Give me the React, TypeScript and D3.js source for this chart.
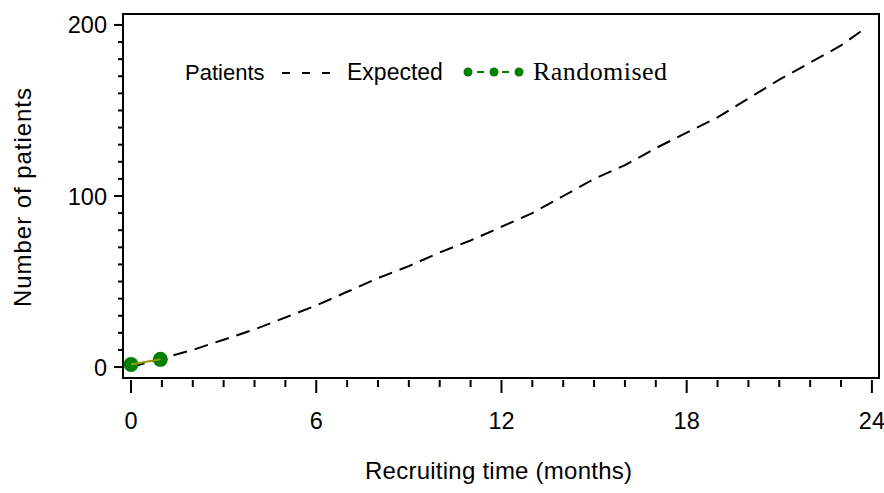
import React, { useRef, useEffect } from "react";
import * as d3 from "d3";

// expected recruitment curve (months -> patients)
const expMonths = [0, 1, 2, 3, 4, 5, 6, 7, 8, 9, 10, 11, 12, 13, 14, 15, 16, 17, 18, 19, 20, 21, 22, 23, 23.7];
const expPatients = [0, 5, 10, 16, 22, 29, 36, 44, 52, 59, 67, 74, 82, 90, 100, 110, 118, 128, 137, 146, 157, 168, 178, 188, 197];

// randomised so far
const randMonths = [0, 0.95];
const randPatients = [1.5, 4.5];

const xTicks = [0, 6, 12, 18, 24];
const yTicks = [0, 100, 200];

const App = () => {
  const svgRef = useRef<SVGSVGElement>(null);

  useEffect(() => {
    const svg = d3.select(svgRef.current);
    svg.selectAll("*").remove();

    // plot box
    const left = 123, right = 879, top = 14, bottom = 378;

    const x = d3.scaleLinear().domain([-0.26, 24.23]).range([left, right]);
    const y = d3.scaleLinear().domain([-6.4, 206.4]).range([bottom, top]);

    svg
      .append("rect")
      .attr("x", left)
      .attr("y", top)
      .attr("width", right - left)
      .attr("height", bottom - top)
      .attr("fill", "none")
      .attr("stroke", "#000")
      .attr("stroke-width", 2);

    // x axis ticks below the box
    const xAxis = svg.append("g").attr("transform", `translate(0,${bottom + 2})`);
    xAxis
      .selectAll("line")
      .data(d3.range(0, 25))
      .enter()
      .append("line")
      .attr("x1", (d) => x(d))
      .attr("x2", (d) => x(d))
      .attr("y1", 0)
      .attr("y2", (d) => (d % 6 === 0 ? 13 : 7))
      .attr("stroke", "#000")
      .attr("stroke-width", 2);
    xAxis
      .selectAll("text")
      .data(xTicks)
      .enter()
      .append("text")
      .attr("x", (d) => x(d))
      .attr("y", 49)
      .attr("text-anchor", "middle")
      .attr("font-family", "Liberation Sans, Arial, sans-serif")
      .attr("font-size", 23.5)
      .text((d) => d);

    // y axis ticks left of the box
    const yAxis = svg.append("g").attr("transform", `translate(${left},0)`);
    yAxis
      .selectAll("line")
      .data(d3.range(0, 201, 10))
      .enter()
      .append("line")
      .attr("y1", (d) => y(d))
      .attr("y2", (d) => y(d))
      .attr("x1", 0)
      .attr("x2", (d) => (d % 100 === 0 ? -9 : -5))
      .attr("stroke", "#000")
      .attr("stroke-width", 2);
    yAxis
      .selectAll("text")
      .data(yTicks)
      .enter()
      .append("text")
      .attr("x", -16)
      .attr("y", (d) => y(d) + 8.5)
      .attr("text-anchor", "end")
      .attr("font-family", "Liberation Sans, Arial, sans-serif")
      .attr("font-size", 23.5)
      .text((d) => d);

    // axis titles
    svg
      .append("text")
      .attr("x", 365)
      .attr("y", 479)
      .attr("textLength", 267)
      .attr("font-family", "Liberation Sans, Arial, sans-serif")
      .attr("font-size", 24)
      .text("Recruiting time (months)");
    svg
      .append("text")
      .attr("transform", `translate(31,307) rotate(-90)`)
      .attr("textLength", 219)
      .attr("font-family", "Liberation Sans, Arial, sans-serif")
      .attr("font-size", 24)
      .text("Number of patients");

    // expected line
    const line = d3
      .line<number>()
      .x((d, i) => x(expMonths[i]))
      .y((d) => y(d));
    svg
      .append("path")
      .datum(expPatients)
      .attr("d", line)
      .attr("fill", "none")
      .attr("stroke", "#000")
      .attr("stroke-width", 2)
      .attr("stroke-dasharray", "14,8");

    // randomised
    svg
      .selectAll(".rand")
      .data(randPatients)
      .enter()
      .append("circle")
      .attr("cx", (d, i) => x(randMonths[i]))
      .attr("cy", (d) => y(d))
      .attr("r", 7.5)
      .attr("fill", "#008000");
    const rline = d3
      .line<number>()
      .x((d, i) => x(randMonths[i]))
      .y((d) => y(d));
    svg
      .append("path")
      .datum(randPatients)
      .attr("d", rline)
      .attr("fill", "none")
      .attr("stroke", "#999900")
      .attr("stroke-width", 2);

    // legend
    const lg = svg.append("g");
    lg.append("text")
      .attr("x", 185)
      .attr("y", 80)
      .attr("font-family", "Liberation Sans, Arial, sans-serif")
      .attr("font-size", 22)
      .text("Patients");
    lg.append("line")
      .attr("x1", 282)
      .attr("x2", 332)
      .attr("y1", 73)
      .attr("y2", 73)
      .attr("stroke", "#000")
      .attr("stroke-width", 2)
      .attr("stroke-dasharray", "8,12");
    lg.append("text")
      .attr("x", 347)
      .attr("y", 80)
      .attr("font-family", "Liberation Sans, Arial, sans-serif")
      .attr("font-size", 23)
      .text("Expected");
    lg.append("line")
      .attr("x1", 468)
      .attr("x2", 519)
      .attr("y1", 72)
      .attr("y2", 72)
      .attr("stroke", "#008000")
      .attr("stroke-width", 2)
      .attr("stroke-dasharray", "0,9,7,9");
    lg.selectAll("circle")
      .data([468, 494, 519])
      .enter()
      .append("circle")
      .attr("cx", (d) => d)
      .attr("cy", 72)
      .attr("r", 4.5)
      .attr("fill", "#008000");
    lg.append("text")
      .attr("x", 533)
      .attr("y", 80)
      .attr("textLength", 134)
      .attr("font-family", "Liberation Serif, Times New Roman, serif")
      .attr("font-size", 26)
      .text("Randomised");
  }, []);

  return (
    <div>
      <svg
        ref={svgRef}
        width={884}
        height={493}
        style={{ position: "absolute", left: 0, top: 0, background: "#fff" }}
      ></svg>
    </div>
  );
};

export default App;
